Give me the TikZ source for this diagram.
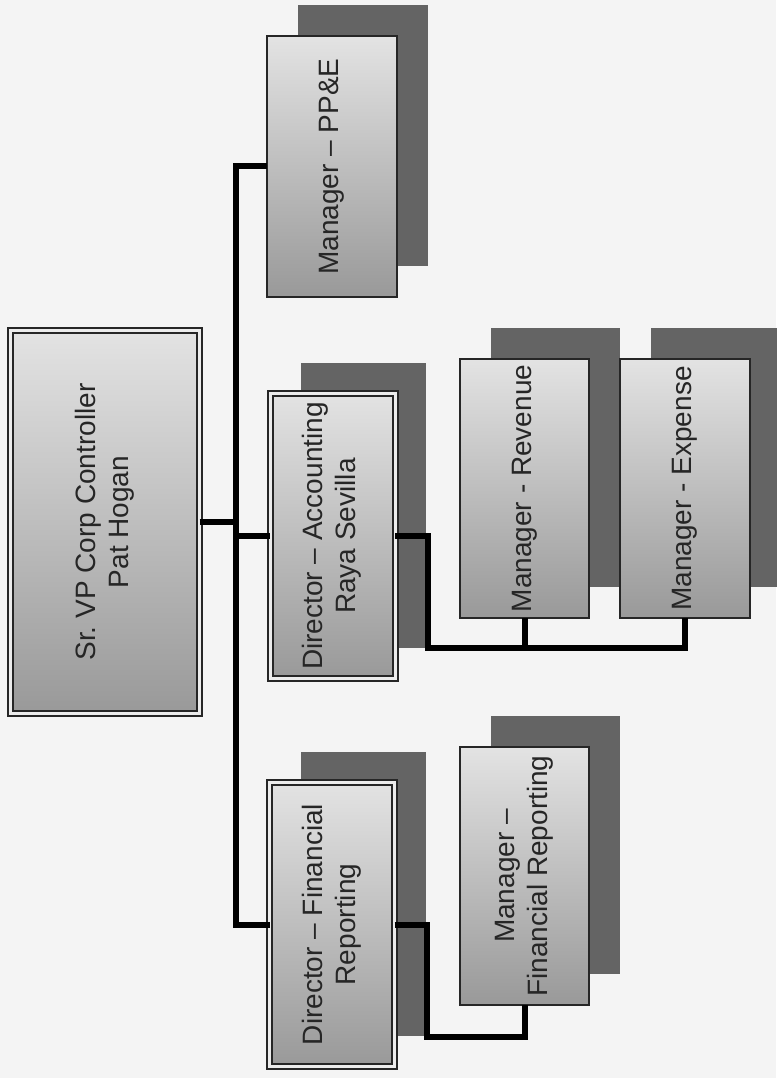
\documentclass[tikz,border=0pt]{standalone}
\usepackage{fontspec}
\setmainfont{Liberation Sans}
\usepackage{xcolor}
\usepackage{tikz}
\usetikzlibrary{shadows, positioning, calc}
\definecolor{ChartInk}{RGB}{38, 38, 38}
\definecolor{ChartShadow}{RGB}{100, 100, 100}
\definecolor{ChartPaper}{RGB}{244, 244, 244}

\begin{document}
\begin{tikzpicture}[x=1pt, y=-1pt, font=\fontsize{28}{33}\selectfont, text=ChartInk,
    post/.style={draw=ChartInk, line width=2.5pt, top color=gray!22, bottom color=gray!80, inner sep=0pt, outer sep=0pt},
    deep/.style={post, drop shadow={shadow xshift=31pt, shadow yshift=31pt, fill=ChartShadow, opacity=1}},
    lead/.style={line width=2pt, double=gray!15, double distance=3pt},
    link/.style={draw=black, line width=6pt}]
    % 页面范围
    \fill[ChartPaper] (0,0) rectangle (776,1078);
    \useasboundingbox (0,0) rectangle (776,1078);

    % 总控制人
    \node[post, lead, minimum width=189pt, minimum height=383pt] (sr) at (105,522)
        {\rotatebox{90}{\begin{tabular}{@{}c@{}}Sr.\ VP Corp Controller\\Pat Hogan\end{tabular}}};

    % 第二层
    \node[deep, minimum width=130pt, minimum height=261pt] (ppe) at (332,166.5)
        {\rotatebox{90}{Manager – PP\&E}};
    \node[deep, lead, minimum width=125pt, minimum height=285pt] (dacc) at (332.5,536)
        {\rotatebox{90}{\begin{tabular}{@{}c@{}}Director – Accounting\\Raya Sevilla\end{tabular}}};
    \node[deep, lead, minimum width=125pt, minimum height=284pt] (dfr) at (332,924.5)
        {\rotatebox{90}{\begin{tabular}{@{}c@{}}Director – Financial\\Reporting\end{tabular}}};

    % 第三层
    \node[deep, minimum width=129pt, minimum height=259pt] (rev) at (524.5,488.5)
        {\rotatebox{90}{Manager - Revenue}};
    \node[deep, minimum width=130pt, minimum height=259pt] (exp) at (685,488.5)
        {\rotatebox{90}{Manager - Expense}};
    \node[deep, minimum width=129pt, minimum height=258pt] (mfr) at (524.5,876)
        {\rotatebox{90}{\begin{tabular}{@{}c@{}}Manager –\\Financial Reporting\end{tabular}}};

    % 连线
    \coordinate (spine) at (236,522);
    \coordinate (accbus) at (428,648);
    \coordinate (frbus) at (427,1037);
    \draw[link] (sr.east) -- (spine);
    \draw[link] (spine) |- (ppe.west);
    \draw[link] (spine) |- (dacc.west);
    \draw[link] (spine) |- (dfr.west);
    \draw[link] (dacc.east) -| (accbus) -| (exp.south);
    \draw[link] (rev.south) -- (rev.south |- accbus);
    \draw[link] (dfr.east) -| (frbus) -| (mfr.south);
\end{tikzpicture}
\end{document}
